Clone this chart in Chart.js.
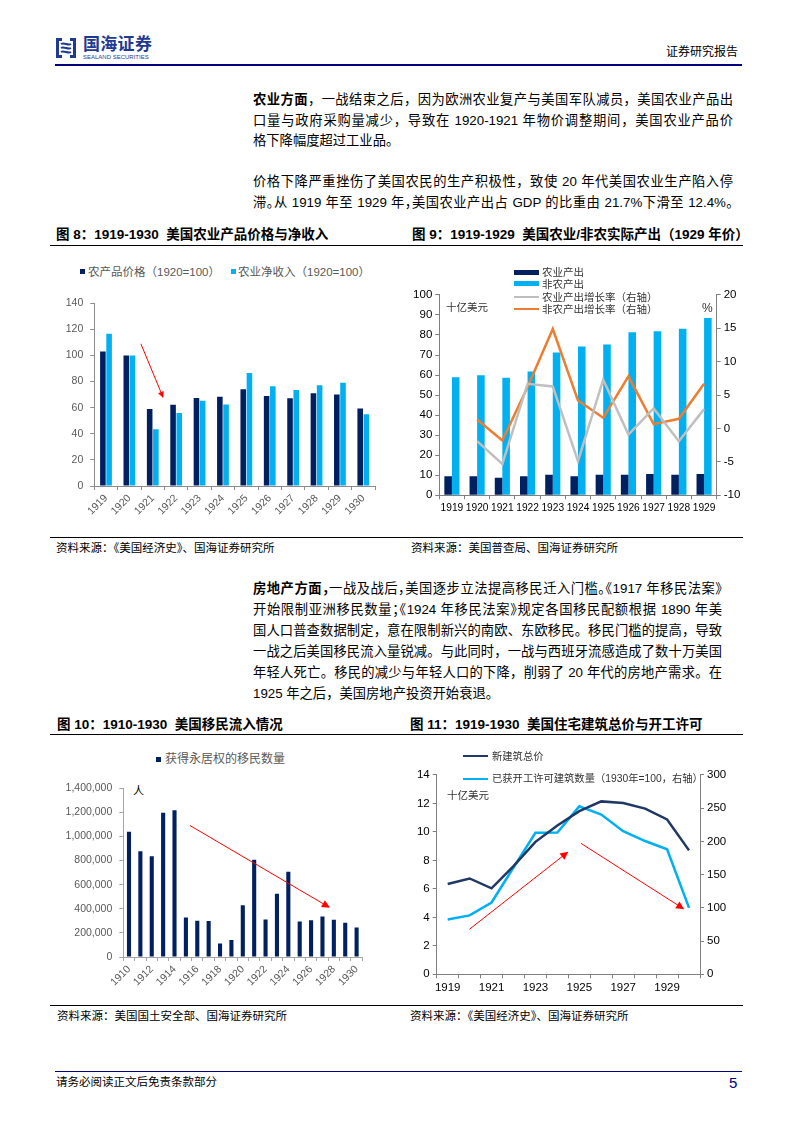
<!DOCTYPE html>
<html lang="zh-CN">
<head>
<meta charset="utf-8">
<title>证券研究报告</title>
<script src="https://cdn.jsdelivr.net/npm/chart.js@4.4.1/dist/chart.umd.min.js"></script>
<style>
  body { margin: 0; background: #fff; }
  #pagina { position: relative; width: 793px; height: 1122px; overflow: hidden;
            font-family: 'Liberation Sans', 'Noto Sans CJK SC', sans-serif; color: #000; }
  .abs { position: absolute; white-space: nowrap; }
  .ln { position: absolute; left: 253px; width: 480px; font-size: 13.3px; line-height: 16px;
        text-align: justify; text-align-last: justify; white-space: nowrap; }
  .ln.p3 { width: 469px; }
  .ln.fim { text-align-last: left; }
  .halt { font-feature-settings: "halt"; }
  .tit { position: absolute; font-size: 13.5px; font-weight: bold; line-height: 16px; white-space: nowrap; }
  .fonte { position: absolute; font-size: 11.5px; line-height: 14px; white-space: nowrap; }
  .regua { position: absolute; left: 50px; width: 693px; border-top: 1.3px solid #000; }
  canvas { position: absolute; }
  .leg { position: absolute; white-space: nowrap; line-height: 14px; }
  .qd { position: absolute; }
</style>
</head>
<body>
<div id="pagina">

  <!-- cabeçalho -->
  <svg class="abs" style="left:55px;top:36px" width="22" height="24" viewBox="0 0 22 24">
    <path d="M1 2h6v3H4v14h3v3H1z" fill="#1f3a93"/>
    <path d="M21 2h-6v3h3v14h-3v3h6z" fill="#1f3a93"/>
    <path d="M6 8c3-2 7 2 10 0M6 12c3-2 7 2 10 0M6 16c3-2 7 2 10 0" stroke="#1f3a93" stroke-width="2" fill="none"/>
  </svg>
  <div class="abs" style="left:83px;top:35px;font-size:17px;line-height:20px;font-weight:bold;color:#1f3a93;letter-spacing:0.3px">国海证券</div>
  <div class="abs" style="left:83px;top:54px;font-size:6px;line-height:7px;color:#1f3a93">SEALAND SECURITIES</div>
  <div class="abs" style="left:666px;top:45px;font-size:12px;line-height:14px">证券研究报告</div>
  <div class="abs" style="left:55px;top:64px;width:687px;border-top:2px solid #000080"></div>

  <!-- texto: agricultura -->
  <div class="ln" style="top:92px"><b>农业方面</b>，一战结束之后，因为欧洲农业复产与美国军队减员，美国农业产品出</div>
  <div class="ln" style="top:113px">口量与政府采购量减少，导致在 1920-1921 年物价调整期间，美国农业产品价</div>
  <div class="ln fim" style="top:133px">格下降幅度超过工业品。</div>
  <div class="ln" style="top:174px">价格下降严重挫伤了美国农民的生产积极性，致使 20 年代美国农业生产陷入停</div>
  <div class="ln halt" style="top:195px">滞。从 1919 年至 1929 年，美国农业产出占 GDP 的比重由 21.7%下滑至 12.4%。</div>

  <!-- figuras 8 e 9 -->
  <div class="tit" style="left:56px;top:227px">图 8：1919-1930&nbsp; 美国农业产品价格与净收入</div>
  <div class="tit" style="left:412px;top:227px">图 9：1919-1929&nbsp; 美国农业/非农实际产出（1929 年价）</div>
  <div class="regua" style="top:245px"></div>

  <div class="qd" style="left:80px;top:269px;width:5px;height:5px;background:#002060"></div>
  <div class="leg" style="left:88px;top:265px;font-size:11.5px;color:#595959">农产品价格（1920=100）</div>
  <div class="qd" style="left:231px;top:269px;width:5px;height:5px;background:#00b0f0"></div>
  <div class="leg" style="left:238px;top:265px;font-size:11.5px;color:#595959">农业净收入（1920=100）</div>
  <canvas id="g8" width="340" height="240" style="left:50px;top:290px"></canvas>

  <canvas id="g9" width="360" height="235" style="left:400px;top:285px"></canvas>
  <div class="qd" style="left:514px;top:270px;width:25px;height:5px;background:#002060"></div>
  <div class="leg" style="left:542px;top:265px;font-size:10.5px;color:#333">农业产出</div>
  <div class="qd" style="left:514px;top:281px;width:25px;height:5px;background:#00b0f0"></div>
  <div class="leg" style="left:542px;top:277px;font-size:10.5px;color:#333">非农产出</div>
  <div class="qd" style="left:514px;top:296px;width:25px;border-top:2.5px solid #bfbfbf"></div>
  <div class="leg" style="left:542px;top:290px;font-size:10.5px;color:#333">农业产出增长率（右轴）</div>
  <div class="qd" style="left:514px;top:308px;width:25px;border-top:2.5px solid #ed7d31"></div>
  <div class="leg" style="left:542px;top:302px;font-size:10.5px;color:#333">非农产出增长率（右轴）</div>
  <div class="leg" style="left:446px;top:300px;font-size:10.5px;color:#333">十亿美元</div>
  <div class="leg" style="left:702px;top:301px;font-size:12px;color:#333">%</div>

  <div class="regua" style="top:537px"></div>
  <div class="fonte" style="left:56px;top:541px">资料来源：《美国经济史》、国海证券研究所</div>
  <div class="fonte" style="left:411px;top:541px">资料来源：美国普查局、国海证券研究所</div>

  <!-- texto: imobiliário -->
  <div class="ln p3 halt" style="top:581px"><b>房地产方面，</b>一战及战后，美国逐步立法提高移民迁入门槛。《1917 年移民法案》</div>
  <div class="ln p3 halt" style="top:602px">开始限制亚洲移民数量；《1924 年移民法案》规定各国移民配额根据 1890 年美</div>
  <div class="ln p3" style="top:623px">国人口普查数据制定，意在限制新兴的南欧、东欧移民。移民门槛的提高，导致</div>
  <div class="ln p3" style="top:644px">一战之后美国移民流入量锐减。与此同时，一战与西班牙流感造成了数十万美国</div>
  <div class="ln p3" style="top:665px">年轻人死亡。移民的减少与年轻人口的下降，削弱了 20 年代的房地产需求。在</div>
  <div class="ln p3 fim" style="top:686px">1925 年之后，美国房地产投资开始衰退。</div>

  <!-- figuras 10 e 11 -->
  <div class="tit" style="left:57px;top:717px">图 10：1910-1930&nbsp; 美国移民流入情况</div>
  <div class="tit" style="left:410px;top:717px">图 11：1919-1930&nbsp; 美国住宅建筑总价与开工许可</div>
  <div class="regua" style="top:734px"></div>

  <div class="qd" style="left:156px;top:757px;width:5px;height:5px;background:#002060"></div>
  <div class="leg" style="left:165px;top:752px;font-size:12px;color:#595959">获得永居权的移民数量</div>
  <div class="leg" style="left:133px;top:784px;font-size:11px">人</div>
  <canvas id="g10" width="320" height="225" style="left:50px;top:775px"></canvas>

  <canvas id="g11" width="360" height="230" style="left:400px;top:765px"></canvas>
  <div class="qd" style="left:463px;top:755px;width:25px;border-top:2.5px solid #203864"></div>
  <div class="leg" style="left:492px;top:750px;font-size:10.3px;color:#333">新建筑总价</div>
  <div class="qd" style="left:463px;top:778px;width:25px;border-top:2.5px solid #00b0f0"></div>
  <div class="leg" style="left:492px;top:772px;font-size:10.3px;color:#333">已获开工许可建筑数量（1930年=100，右轴）</div>
  <div class="leg" style="left:447px;top:788px;font-size:10.5px;color:#333">十亿美元</div>

  <div class="regua" style="top:1005px"></div>
  <div class="fonte" style="left:57px;top:1009px">资料来源：美国国土安全部、国海证券研究所</div>
  <div class="fonte" style="left:410px;top:1009px">资料来源：《美国经济史》、国海证券研究所</div>

  <!-- rodapé -->
  <div class="abs" style="left:55px;top:1071px;width:687px;border-top:1.5px solid #000080"></div>
  <div class="abs" style="left:56px;top:1075px;font-size:11.5px;line-height:14px">请务必阅读正文后免责条款部分</div>
  <div class="abs" style="left:729px;top:1074px;font-size:15px;line-height:18px;color:#000080">5</div>
</div>

<script>
/* Dados */
const anosAgro = ['1919', '1920', '1921', '1922', '1923', '1924', '1925', '1926', '1927', '1928', '1929', '1930'];
const precoAgro = [103, 100, 59, 62.3, 67.5, 68.3, 74.2, 69, 67.3, 71, 70.2, 59.3];
const rendaAgro = [116.7, 100, 43.4, 56, 65.3, 62.5, 86.6, 76.5, 73.5, 77.2, 79.2, 54.9];

const anosProd = ['1919', '1920', '1921', '1922', '1923', '1924', '1925', '1926', '1927', '1928', '1929'];
const prodAgro = [9.5, 9.5, 8.8, 9.5, 10.2, 9.5, 10.3, 10.3, 10.6, 10.3, 10.6];
const prodNaoAgro = [58.9, 59.9, 58.7, 61.8, 71.2, 74.2, 75.3, 81.4, 81.9, 83.1, 88.5];
const crescAgro = [null, -1.9, -5.3, 6.7, 6.3, -4.9, 7.3, -0.9, 3.0, -1.9, 2.9];
const crescNaoAgro = [null, 1.35, -1.8, 6.2, 14.9, 4.2, 1.6, 7.8, 0.65, 1.45, 6.7];

const anosImig = ['1910', '1911', '1912', '1913', '1914', '1915', '1916', '1917', '1918', '1919', '1920',
                  '1921', '1922', '1923', '1924', '1925', '1926', '1927', '1928', '1929', '1930'];
const imigrantes = [1040000, 877000, 837000, 1197000, 1218000, 328000, 300000, 298000, 111000, 141000, 430000,
                    807000, 311000, 525000, 707000, 295000, 306000, 336000, 309000, 284000, 244000];

const anosObras = ['1919', '1920', '1921', '1922', '1923', '1924', '1925', '1926', '1927', '1928', '1929', '1930'];
const valorObras = [6.34, 6.73, 6.04, 7.6, 9.3, 10.45, 11.45, 12.14, 12.03, 11.63, 10.87, 8.7];
const licencas = [82.6, 88.6, 108, 160.7, 213, 213.4, 252.7, 240.3, 215.4, 200.5, 188, 100];

const AZUL_ESCURO = '#002060', AZUL_CLARO = '#00b0f0';
Chart.defaults.font.family = "'Liberation Sans','Noto Sans CJK SC',sans-serif";
Chart.defaults.animation = false;

/* setas vermelhas em coordenadas de dados */
const setas = {
  id: 'setas',
  afterDatasetsDraw(chart, args, opts) {
    const ctx = chart.ctx;
    (opts.itens || []).forEach(s => {
      const ex = chart.scales.x, ey = chart.scales[s.eixo || 'y'];
      const x1 = ex.getPixelForValue(s.de[0]), y1 = ey.getPixelForValue(s.de[1]);
      const x2 = ex.getPixelForValue(s.ate[0]), y2 = ey.getPixelForValue(s.ate[1]);
      const ang = Math.atan2(y2 - y1, x2 - x1), p = s.ponta || 7;
      ctx.save();
      ctx.strokeStyle = ctx.fillStyle = '#ff0000';
      ctx.lineWidth = 1;
      ctx.beginPath();
      ctx.moveTo(x1, y1);
      ctx.lineTo(x2 - p * 0.8 * Math.cos(ang), y2 - p * 0.8 * Math.sin(ang));
      ctx.stroke();
      ctx.beginPath();
      ctx.moveTo(x2, y2);
      ctx.lineTo(x2 - p * Math.cos(ang - 0.45), y2 - p * Math.sin(ang - 0.45));
      ctx.lineTo(x2 - p * Math.cos(ang + 0.45), y2 - p * Math.sin(ang + 0.45));
      ctx.closePath();
      ctx.fill();
      ctx.restore();
    });
  }
};

/* eixo com linha, marcas externas e largura/altura fixas */
function eixo(o) {
  const e = {
    grid: { drawOnChartArea: false, color: o.cor, tickLength: 4 },
    border: { color: o.cor },
    ticks: { color: o.texto, font: { size: o.fonte }, padding: o.pad, autoSkip: false,
             maxRotation: o.rot || 0, minRotation: o.rot || 0 },
    afterFit: s => { if (o.w != null) s.width = o.w; if (o.h != null) s.height = o.h; }
  };
  if (o.pos) e.position = o.pos;
  if (o.min != null) { e.min = o.min; e.max = o.max; e.ticks.stepSize = o.passo; }
  if (o.cb) e.ticks.callback = o.cb;
  if (o.offset) { e.offset = true; e.grid.offset = true; }
  return e;
}

const base = (padding, itens) => ({
  responsive: false, animation: false, layout: { padding },
  plugins: { legend: { display: false }, tooltip: { enabled: false }, setas: { itens } }
});

// Figura 8
new Chart(document.getElementById('g8'), {
  type: 'bar',
  data: { labels: anosAgro, datasets: [
    { label: '农产品价格（1920=100）', data: precoAgro, backgroundColor: AZUL_ESCURO, categoryPercentage: .53, barPercentage: .9 },
    { label: '农业净收入（1920=100）', data: rendaAgro, backgroundColor: AZUL_CLARO, categoryPercentage: .53, barPercentage: .9 }
  ] },
  options: { ...base({ top: 7.7, right: 15 }, [{ de: [1.49, 109], ate: [2.45, 67.5], ponta: 7 }]),
    scales: {
      x: eixo({ cor: '#8c8c8c', texto: '#595959', fonte: 10.5, pad: 2, rot: 45, h: 44, offset: true }),
      y: eixo({ cor: '#8c8c8c', texto: '#595959', fonte: 10.5, pad: 7, w: 44.3, min: 0, max: 140, passo: 20 })
    } },
  plugins: [setas]
});

// Figura 9
new Chart(document.getElementById('g9'), {
  type: 'bar',
  data: { labels: anosProd, datasets: [
    { type: 'line', label: '农业产出增长率（右轴）', data: crescAgro, borderColor: '#bfbfbf', borderWidth: 2.5, pointRadius: 0, yAxisID: 'y2', order: 0 },
    { type: 'line', label: '非农产出增长率（右轴）', data: crescNaoAgro, borderColor: '#ed7d31', borderWidth: 2.5, pointRadius: 0, yAxisID: 'y2', order: 0 },
    { label: '农业产出', data: prodAgro, backgroundColor: AZUL_ESCURO, categoryPercentage: .6, barPercentage: 1, order: 1 },
    { label: '非农产出', data: prodNaoAgro, backgroundColor: AZUL_CLARO, categoryPercentage: .6, barPercentage: 1, order: 1 }
  ] },
  options: { ...base({ top: 7.7 }, []),
    scales: {
      x: eixo({ cor: '#808080', texto: '#000', fonte: 10.2, pad: 3, h: 24.7, offset: true }),
      y: eixo({ cor: '#808080', texto: '#000', fonte: 11.5, pad: 3, w: 39.3, min: 0, max: 100, passo: 10 }),
      y2: { type: 'linear', ...eixo({ pos: 'right', cor: '#808080', texto: '#000', fonte: 11.5, pad: 3, w: 43.3, min: -10, max: 20, passo: 5 }) }
    } },
  plugins: [setas]
});

// Figura 10
new Chart(document.getElementById('g10'), {
  type: 'bar',
  data: { labels: anosImig, datasets: [
    { label: '获得永居权的移民数量', data: imigrantes, backgroundColor: AZUL_ESCURO, categoryPercentage: 1, barPercentage: .36 }
  ] },
  options: { ...base({ top: 9.7, right: 7.7 }, [{ de: [5.36, 1091000], ate: [17.66, 409000], ponta: 9 }]),
    scales: {
      x: eixo({ cor: '#a6a6a6', texto: '#595959', fonte: 10.5, pad: 2, rot: 45, h: 43, offset: true,
                cb: (v, i) => i % 2 ? '' : anosImig[i] }),
      y: eixo({ cor: '#a6a6a6', texto: '#595959', fonte: 10.5, pad: 7, w: 73.3, min: 0, max: 1400000, passo: 200000,
                cb: v => v.toLocaleString('en-US') })
    } },
  plugins: [setas]
});

// Figura 11
new Chart(document.getElementById('g11'), {
  type: 'line',
  data: { labels: anosObras, datasets: [
    { label: '新建筑总价', data: valorObras, borderColor: '#203864', borderWidth: 2.5, pointRadius: 0, yAxisID: 'y' },
    { label: '已获开工许可建筑数量（1930年=100，右轴）', data: licencas, borderColor: AZUL_CLARO, borderWidth: 2.5, pointRadius: 0, yAxisID: 'y2' }
  ] },
  options: { ...base({ top: 8.3 }, [
      { de: [0.99, 3.16], ate: [5.5, 8.61], ponta: 9 },
      { de: [6.08, 9.19], ate: [10.78, 4.57], ponta: 9 }
    ]),
    scales: {
      x: eixo({ cor: '#808080', texto: '#000', fonte: 11.5, pad: 3, h: 20.7, offset: true,
                cb: (v, i) => i % 2 ? '' : anosObras[i] }),
      y: eixo({ cor: '#808080', texto: '#000', fonte: 11.5, pad: 3, w: 36.7, min: 0, max: 14, passo: 2 }),
      y2: { type: 'linear', ...eixo({ pos: 'right', cor: '#808080', texto: '#000', fonte: 11.5, pad: 3, w: 60, min: 0, max: 300, passo: 50 }) }
    } },
  plugins: [setas]
});
</script>
</body>
</html>
